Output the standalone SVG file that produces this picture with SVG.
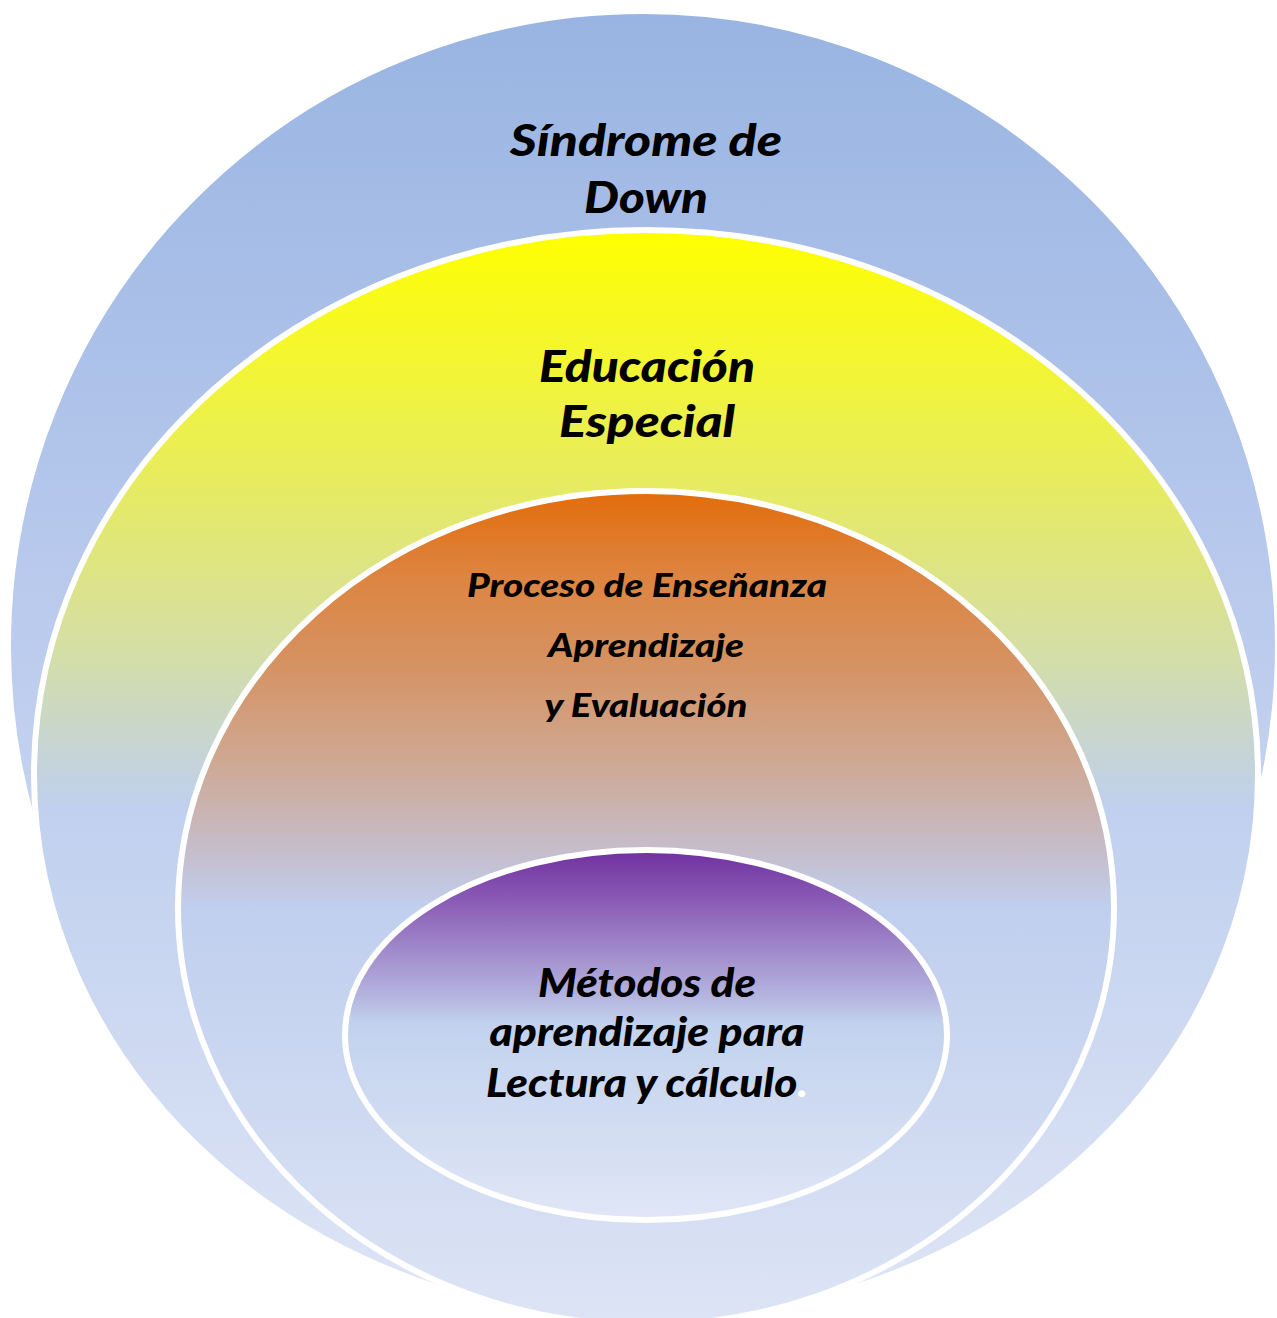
<svg xmlns="http://www.w3.org/2000/svg" width="1277" height="1318" viewBox="0 0 1277 1318">
<defs>
<linearGradient id="gBlue" x1="0" y1="0" x2="0" y2="1">
<stop offset="0" stop-color="#99B4E2"/>
<stop offset="0.5" stop-color="#BCCCEE"/>
<stop offset="1" stop-color="#E0E6F6"/>
</linearGradient>
<linearGradient id="gYellow" x1="0" y1="0" x2="0" y2="1">
<stop offset="0" stop-color="#FFFF00"/>
<stop offset="0.15" stop-color="#F0F33E"/>
<stop offset="0.29" stop-color="#E0E67A"/>
<stop offset="0.39" stop-color="#D4DEA8"/>
<stop offset="0.48" stop-color="#C6D4D6"/>
<stop offset="0.53" stop-color="#C0D0EE"/>
<stop offset="1" stop-color="#DFE5F6"/>
</linearGradient>
<linearGradient id="gOrange" x1="0" y1="0" x2="0" y2="1">
<stop offset="0" stop-color="#E36C0A"/>
<stop offset="0.1" stop-color="#DD8440"/>
<stop offset="0.2" stop-color="#D6915F"/>
<stop offset="0.32" stop-color="#CFA791"/>
<stop offset="0.44" stop-color="#C5BFCF"/>
<stop offset="0.5" stop-color="#C0CFEE"/>
<stop offset="1" stop-color="#DDE4F5"/>
</linearGradient>
<linearGradient id="gPurple" x1="0" y1="0" x2="0" y2="1">
<stop offset="0" stop-color="#7030A0"/>
<stop offset="0.14" stop-color="#8A5CB6"/>
<stop offset="0.28" stop-color="#A28DCC"/>
<stop offset="0.4" stop-color="#B5B6E0"/>
<stop offset="0.47" stop-color="#C2D2EE"/>
<stop offset="1" stop-color="#E0E6F6"/>
</linearGradient>
</defs>
<style>
.shape { stroke: #FFFFFF; stroke-width: 6; }
.lbl { font-family: "Lato", "Carlito", "Liberation Sans", sans-serif; font-weight: 900; font-style: italic; fill: #000000; text-anchor: middle; }
.big { font-size: 43px; }
.mid { font-size: 32px; }
.inner { font-size: 40px; }
</style>
<rect x="0" y="0" width="1277" height="1318" fill="#FFFFFF"/>
<g id="node-sindrome">
<circle class="shape" cx="643" cy="646" r="635" fill="url(#gBlue)"/>
<text class="lbl big" x="646" y="156" textLength="272" lengthAdjust="spacingAndGlyphs">Síndrome de</text>
<text class="lbl big" x="646" y="213" textLength="124" lengthAdjust="spacingAndGlyphs">Down</text>
</g>
<g id="node-educacion">
<ellipse class="shape" cx="646" cy="775" rx="612" ry="545" fill="url(#gYellow)"/>
<text class="lbl big" x="647" y="382" textLength="216" lengthAdjust="spacingAndGlyphs">Educación</text>
<text class="lbl big" x="647" y="437" textLength="176" lengthAdjust="spacingAndGlyphs">Especial</text>
</g>
<g id="node-proceso">
<ellipse class="shape" cx="646" cy="908" rx="468" ry="417" fill="url(#gOrange)"/>
<text class="lbl mid" x="647" y="597" textLength="360" lengthAdjust="spacingAndGlyphs">Proceso de Enseñanza</text>
<text class="lbl mid" x="646" y="657" textLength="196" lengthAdjust="spacingAndGlyphs">Aprendizaje</text>
<text class="lbl mid" x="646" y="717" textLength="203" lengthAdjust="spacingAndGlyphs">y Evaluación</text>
</g>
<g id="node-metodos">
<ellipse class="shape" cx="646" cy="1035" rx="301" ry="185" fill="url(#gPurple)"/>
<text class="lbl inner" x="647" y="997" textLength="218" lengthAdjust="spacingAndGlyphs">Métodos de</text>
<text class="lbl inner" x="647" y="1046" textLength="315" lengthAdjust="spacingAndGlyphs">aprendizaje para</text>
<text class="lbl inner" x="647" y="1097" textLength="322" lengthAdjust="spacingAndGlyphs">Lectura y cálculo<tspan fill="#FFFFFF">.</tspan></text>
</g>
<g id="connectors"/>
</svg>
